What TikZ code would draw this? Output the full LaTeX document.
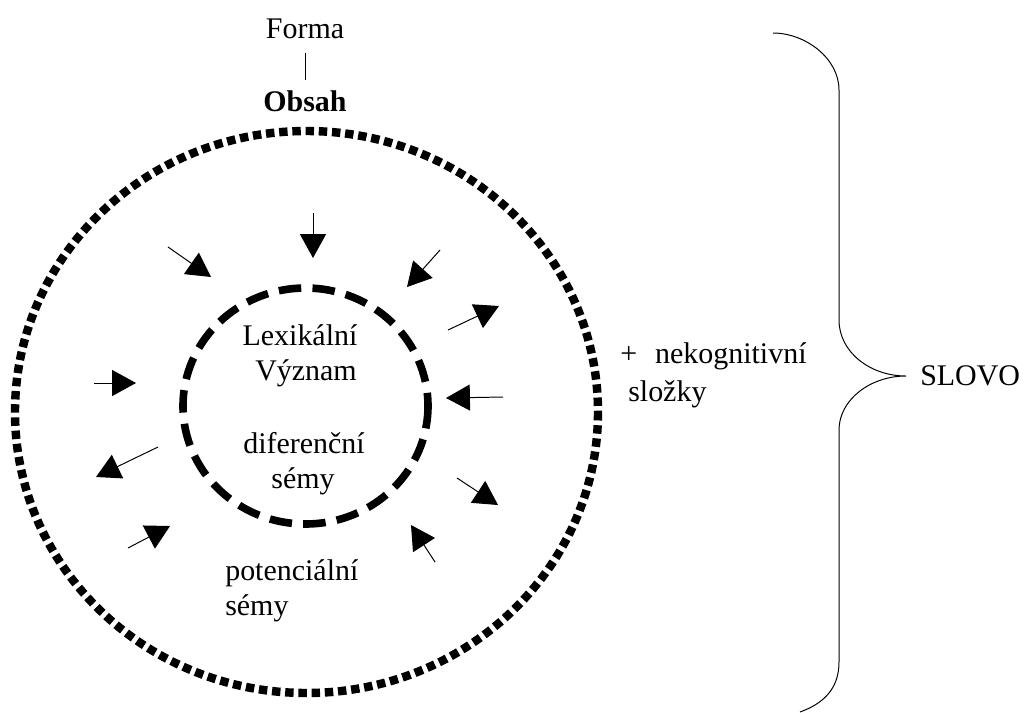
\documentclass[tikz,border=0pt]{standalone}
\usepackage{fontspec}
\setmainfont{Liberation Serif}
\usetikzlibrary{arrows.meta}
\begin{document}
\begin{tikzpicture}[x=0.025cm,y=-0.025cm,
		every node/.style={inner sep=0pt,font=\fontsize{21.3pt}{25pt}\selectfont},
		semarrow/.style={line width=0.7pt,-{Triangle[length=17pt,width=18.5pt]}},
		outerring/.style={line width=6pt,dash pattern=on 6pt off 3.4pt},
		innerring/.style={line width=5.4pt,dash pattern=on 16pt off 8pt}]
		\useasboundingbox (0,0) rectangle (1027,712);
		% rings
		\draw [outerring] (306.5,412) coordinate (O) ellipse [x radius=291.5,y radius=281];
		\draw [innerring] (305.5,406) coordinate (I) ellipse [x radius=122.5,y radius=118];
		% arrows: tail t, head h
		\coordinate (t1) at (313,213);  \coordinate (h1) at (313,258);
		\coordinate (t2) at (168,247);  \coordinate (h2) at (211,277);
		\coordinate (t3) at (94,383);   \coordinate (h3) at (136,383);
		\coordinate (t4) at (158,447);  \coordinate (h4) at (96,477);
		\coordinate (t5) at (128,548);  \coordinate (h5) at (170,526);
		\coordinate (t6) at (440,250);  \coordinate (h6) at (407,287);
		\coordinate (t7) at (448,330);  \coordinate (h7) at (499,306);
		\coordinate (t8) at (503,397);  \coordinate (h8) at (446,398);
		\coordinate (t9) at (457,478);  \coordinate (h9) at (498,505);
		\coordinate (t10) at (435,562); \coordinate (h10) at (411,525);
		\foreach \i in {1,...,10}
			\draw [semarrow] (t\i) to (h\i);
		% brace
		\draw [line width=0.7pt] (773,33) .. controls (805,33) and (839,58) .. (839,90) -- (839,320)
			.. controls (839,352) and (870,376) .. (906,376)
			.. controls (870,376) and (839,400) .. (839,430) -- (839,662)
			.. controls (839,690) and (822,704) .. (800,712);
		% labels
		\node [anchor=base] (forma) at (305,38) {Forma};
		\node [anchor=base] (obsah) at (305,111) {\bfseries Obsah};
		\draw [line width=0.7pt,shorten <=10pt,shorten >=6.8pt] (forma) to (obsah);
		\node [anchor=base] (lex) at (300,345) {Lexikální};
		\node [anchor=base] (vyz) at (306,380) {Význam};
		\node [anchor=base] (dif) at (304,453) {diferenční};
		\node [anchor=base] (dsem) at (303,488) {sémy};
		\node [anchor=base west] (pot) at (225,580) {potenciální};
		\node [anchor=base west] (psem) at (225,615) {sémy};
		\node [anchor=base west] (nekog) at (620,363) {+\hspace{0.6em}nekognitivní};
		\node [anchor=base west] (slozky) at (628,401) {složky};
		\node [anchor=base west] (slovo) at (920,385) {SLOVO};
	\end{tikzpicture}
\end{document}
